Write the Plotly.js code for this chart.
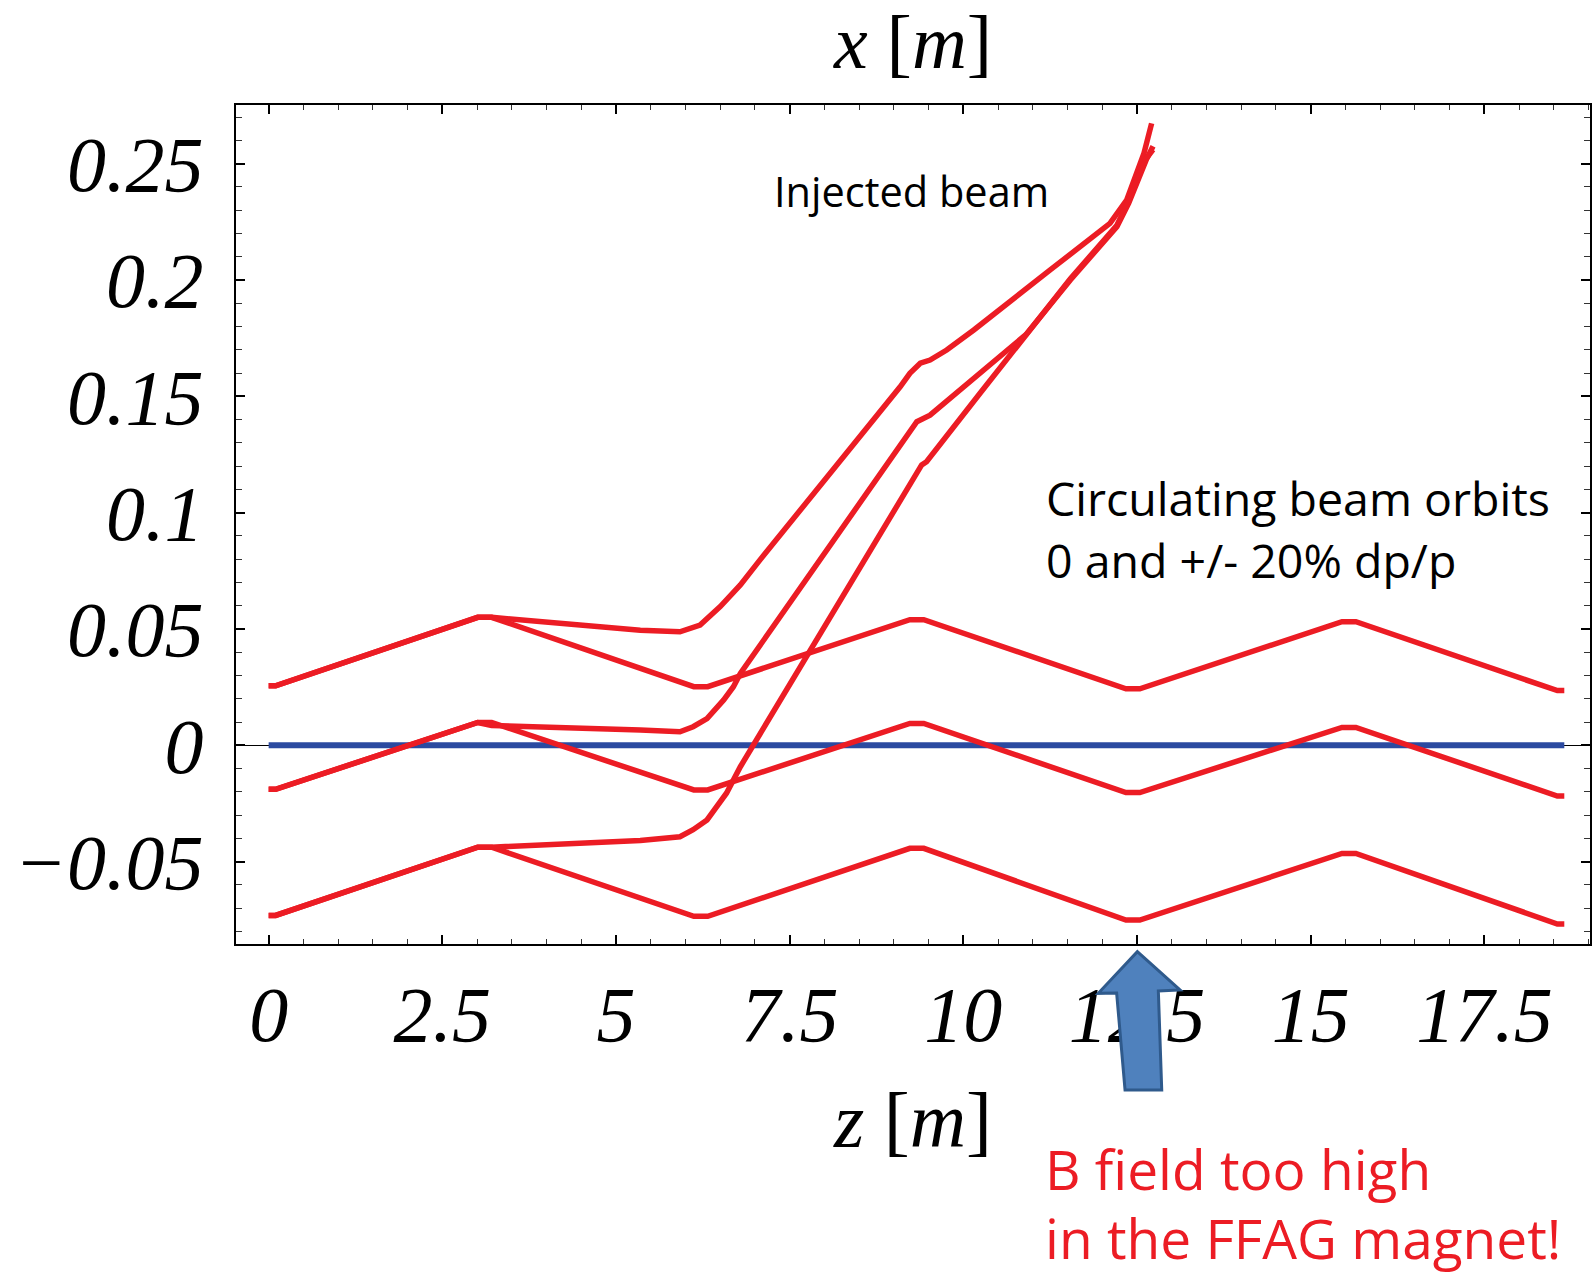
<!DOCTYPE html>
<html>
<head>
<meta charset="utf-8">
<script src="https://cdn.plot.ly/plotly-3.0.1.min.js"></script>
<style>html,body{margin:0;padding:0;background:#fff;}#chart{width:1593px;height:1275px;}</style>
</head>
<body>
<div id="chart"></div>
<script>
// ---- Data ----
// Circulating beam orbits (0 and +/- 20% dp/p)
var orbitZ   = [0, 0.1, 3.01, 3.21, 6.12, 6.32, 9.23, 9.43, 12.34, 12.54, 15.45, 15.65, 18.55, 18.65];
var orbitTop = [0.0256, 0.0256, 0.0550, 0.0550, 0.0252, 0.0252, 0.0540, 0.0540, 0.0243, 0.0243, 0.0531, 0.0531, 0.0235, 0.0235];
var orbitMid = [-0.0189, -0.0189, 0.0098, 0.0098, -0.0192, -0.0192, 0.0094, 0.0094, -0.0203, -0.0203, 0.0077, 0.0077, -0.0218, -0.0218];
var orbitBot = [-0.0731, -0.0731, -0.0438, -0.0438, -0.0735, -0.0735, -0.0443, -0.0443, -0.0751, -0.0751, -0.0465, -0.0465, -0.0768, -0.0768];

// Injected beam trajectories
var injTopZ = [0, 0.1, 3.01, 3.21, 5.35, 5.92, 6.21, 6.50, 6.79, 7.07, 9.09, 9.23, 9.38, 9.52, 9.76, 10.15, 11.25, 12.11, 12.35, 12.50, 12.60, 12.71];
var injTopX = [0.0256, 0.0256, 0.0550, 0.0550, 0.0495, 0.0488, 0.0517, 0.0596, 0.0689, 0.0796, 0.1541, 0.1599, 0.1642, 0.1656, 0.1699, 0.1785, 0.2043, 0.2243, 0.2343, 0.2459, 0.2545, 0.2673];

var injMidZ = [0, 0.1, 3.01, 3.21, 5.35, 5.92, 6.11, 6.31, 6.55, 6.69, 6.79, 9.33, 9.52, 10.24, 10.90, 11.54, 12.21, 12.38, 12.52, 12.63, 12.73];
var injMidX = [-0.0189, -0.0189, 0.0098, 0.0085, 0.0066, 0.0058, 0.0080, 0.0115, 0.0195, 0.0252, 0.0309, 0.1391, 0.1419, 0.1599, 0.1765, 0.2000, 0.2229, 0.2330, 0.2440, 0.2515, 0.2575];

var injBotZ = [0, 0.1, 3.01, 3.21, 5.35, 5.92, 6.11, 6.31, 6.59, 6.79, 9.40, 9.47, 10.24, 10.90, 11.54, 12.21, 12.38, 12.52, 12.63, 12.73];
var injBotX = [-0.0731, -0.0731, -0.0438, -0.0438, -0.0409, -0.0393, -0.0363, -0.0321, -0.0206, -0.0092, 0.1205, 0.1219, 0.1513, 0.1760, 0.2005, 0.2235, 0.2338, 0.2448, 0.2520, 0.2560];

// Reference (design) orbit
var refZ = [0, 18.65];
var refX = [0, 0];

// Axis ticks
var xTickVals = [0, 2.5, 5, 7.5, 10, 12.5, 15, 17.5];
var xTickText = ["0", "2.5", "5", "7.5", "10", "12.5", "15", "17.5"];
var yTickVals = [-0.05, 0, 0.05, 0.1, 0.15, 0.2, 0.25];
var yTickText = ["\u22120.05", "0", "0.05", "0.1", "0.15", "0.2", "0.25"];

// ---- Styling ----
var RED = "#ec1c24";
var BLUE = "#2b4aa0";
var serif = "Liberation Serif, Times New Roman, serif";
var sans = "Open Sans, Noto Sans, sans-serif";

function redLine(z, x, name) {
  return {x: z, y: x, type: "scatter", mode: "lines", name: name,
          line: {color: RED, width: 5.5}, hoverinfo: "skip"};
}

var traces = [
  {x: refZ, y: refX, type: "scatter", mode: "lines", name: "reference",
   line: {color: BLUE, width: 6}, hoverinfo: "skip"},
  redLine(orbitZ, orbitTop, "orbit +20%"),
  redLine(orbitZ, orbitMid, "orbit 0"),
  redLine(orbitZ, orbitBot, "orbit -20%"),
  redLine(injTopZ, injTopX, "injected 1"),
  redLine(injMidZ, injMidX, "injected 2"),
  redLine(injBotZ, injBotX, "injected 3")
];

var axisCommon = {
  showgrid: false,
  showline: true, linecolor: "black", linewidth: 2,
  mirror: "ticks",
  ticks: "inside", ticklen: 9, tickwidth: 2, tickcolor: "black",
  tickmode: "array",
  automargin: false,
  tickfont: {family: serif, size: 78, color: "black", style: "italic"}
};

var layout = {
  width: 1593, height: 1275,
  paper_bgcolor: "white", plot_bgcolor: "white",
  showlegend: false,
  margin: {l: 236, r: 3, t: 105, b: 331, pad: 0},
  title: {text: "<i>x</i> [<i>m</i>]", font: {family: serif, size: 76, color: "black"},
          x: 0.5, xref: "paper", xanchor: "center", y: 1 - 41/1275, yref: "container", yanchor: "middle"},
  xaxis: Object.assign({}, axisCommon, {
    range: [-0.47, 19.02],
    tickvals: xTickVals, ticktext: xTickText,
    zeroline: false,
    ticklabelstandoff: 1,
    minor: {dtick: 0.5, tick0: 0, ticks: "inside", ticklen: 5, tickwidth: 1, tickcolor: "#333"},
    title: {text: "<i>z</i> [<i>m</i>]", font: {family: serif, size: 78, color: "black"}, standoff: 36}
  }),
  yaxis: Object.assign({}, axisCommon, {
    range: [-0.0854, 0.2752],
    tickvals: yTickVals, ticktext: yTickText,
    zeroline: true, zerolinecolor: "black", zerolinewidth: 1.5,
    ticklabelstandoff: 15,
    minor: {dtick: 0.01, tick0: 0, ticks: "inside", ticklen: 6, tickwidth: 1, tickcolor: "#333"}
  }),
  annotations: [
    {text: "Injected beam", xref: "paper", yref: "paper", x: 0.3959, y: 0.8975,
     xanchor: "left", yanchor: "middle", showarrow: false,
     font: {family: sans, size: 41.5, color: "black"}},
    {text: "Circulating beam orbits", xref: "paper", yref: "paper", x: 0.5968, y: 0.5316,
     xanchor: "left", yanchor: "middle", showarrow: false,
     font: {family: sans, size: 46.5, color: "black"}},
    {text: "0 and +/- 20% dp/p", xref: "paper", yref: "paper", x: 0.5968, y: 0.4577,
     xanchor: "left", yanchor: "middle", showarrow: false,
     font: {family: sans, size: 46.5, color: "black"}},
    {text: "B field too high", xref: "paper", yref: "paper", x: 0.5960, y: -0.2670,
     xanchor: "left", yanchor: "middle", showarrow: false,
     font: {family: sans, size: 55, color: RED}},
    {text: "in the FFAG magnet!", xref: "paper", yref: "paper", x: 0.5960, y: -0.3500,
     xanchor: "left", yanchor: "middle", showarrow: false,
     font: {family: sans, size: 55, color: RED}}
  ],
  shapes: [
    {type: "path", xref: "paper", yref: "paper", layer: "above",
     path: "M 0.6657 -0.0092 L 0.6972 -0.0548 L 0.6812 -0.0560 L 0.6837 -0.1740 L 0.6566 -0.1740 L 0.6504 -0.0584 L 0.6368 -0.0588 Z",
     fillcolor: "#4f81bd", line: {color: "#2f5a8c", width: 3}}
  ]
};

Plotly.newPlot("chart", traces, layout, {staticPlot: true, displayModeBar: false});
</script>
</body>
</html>
